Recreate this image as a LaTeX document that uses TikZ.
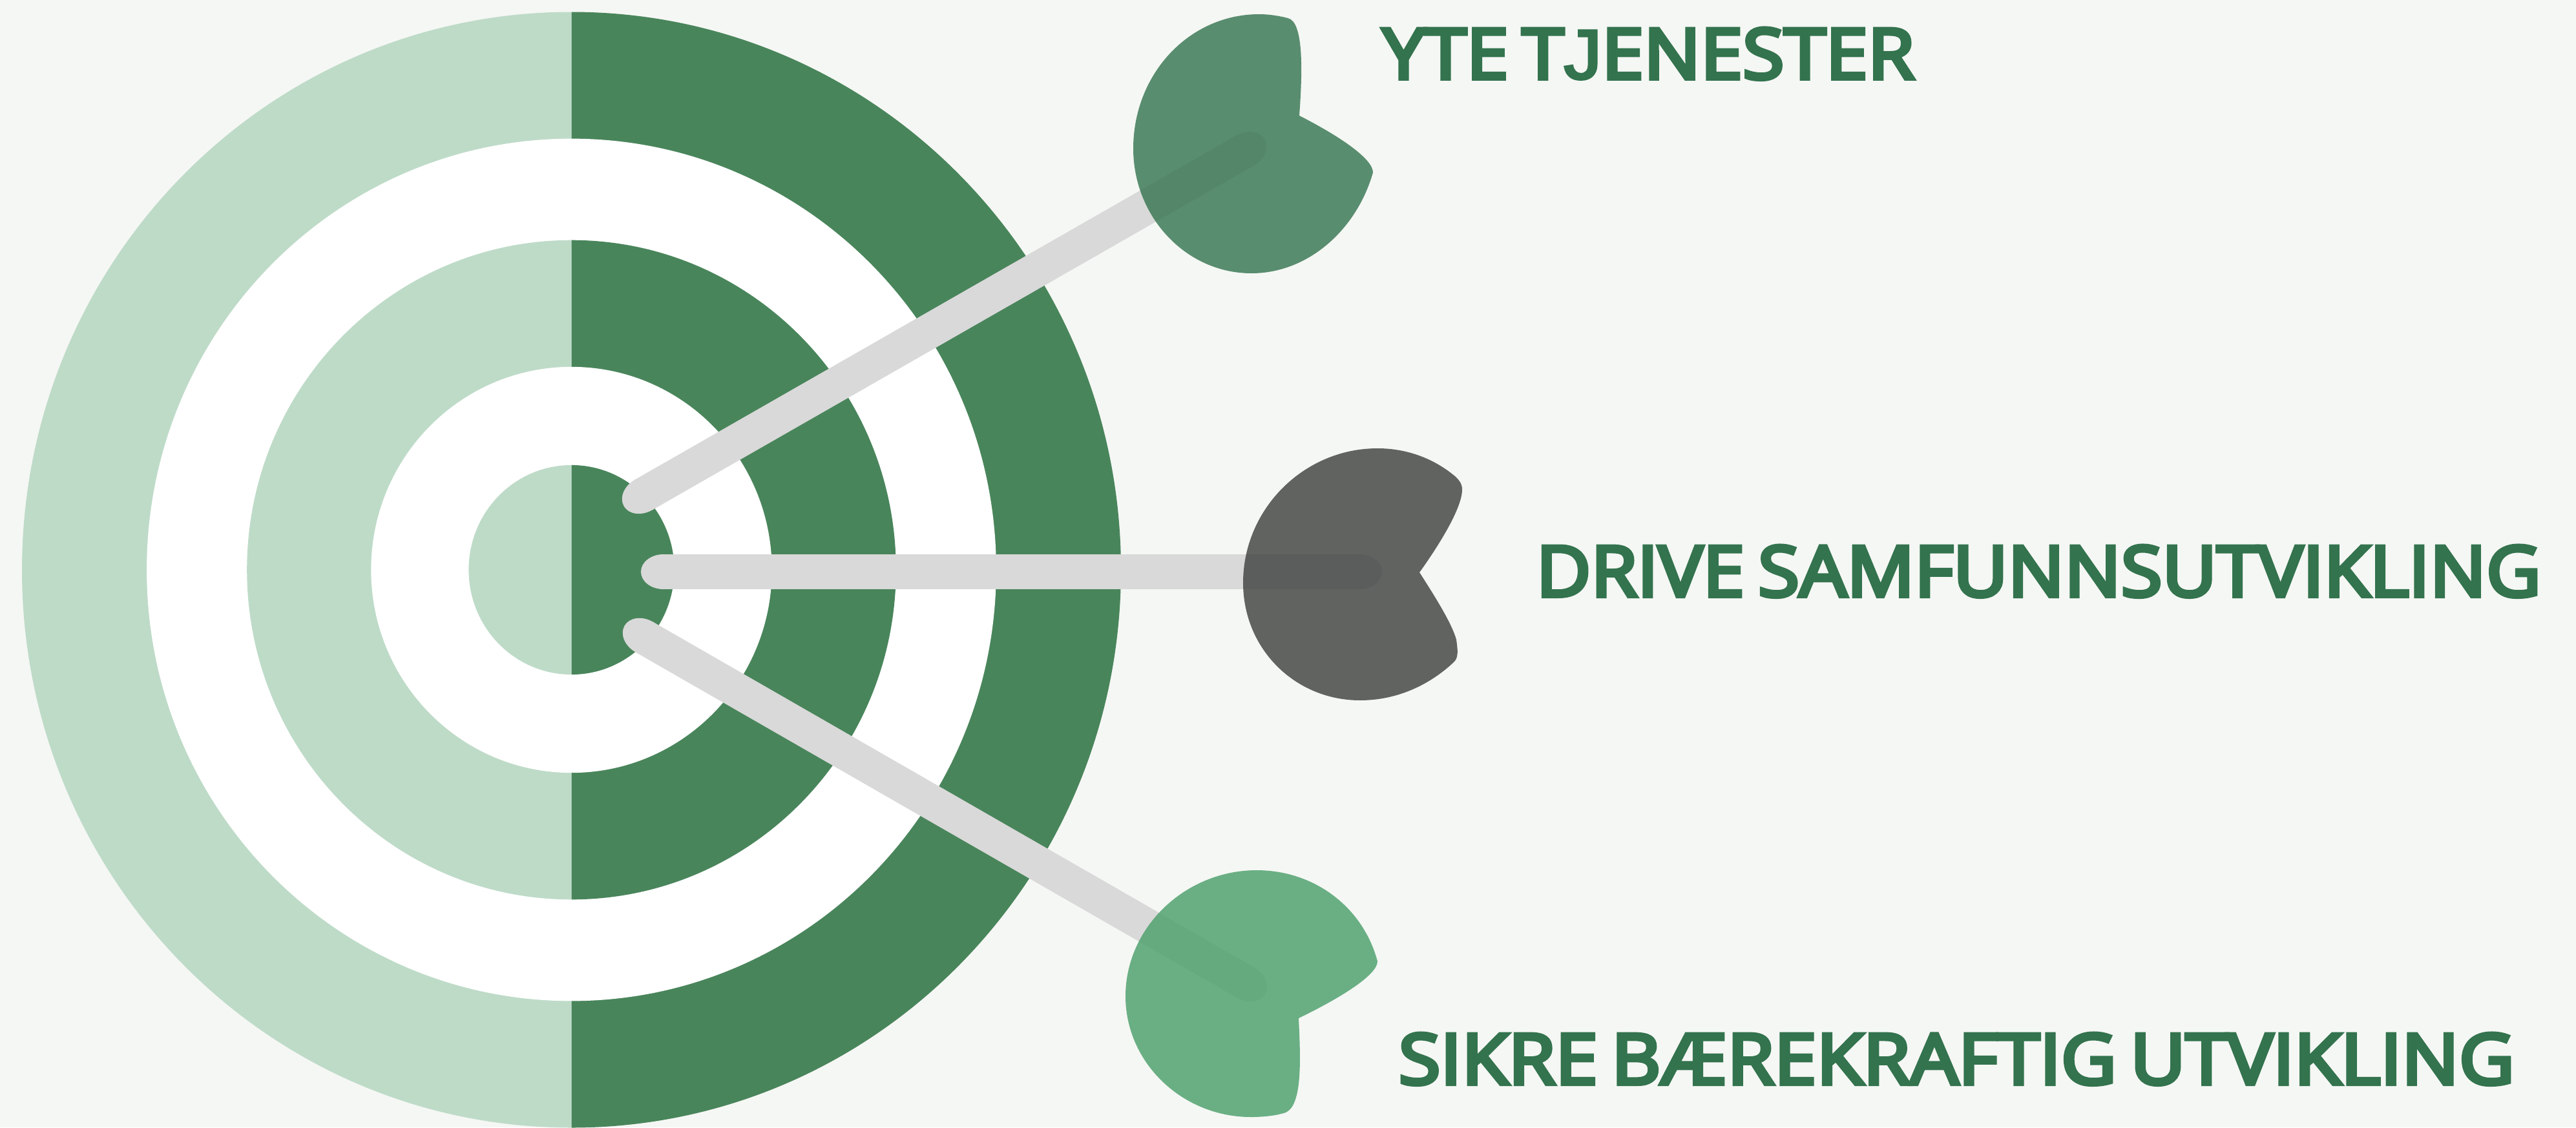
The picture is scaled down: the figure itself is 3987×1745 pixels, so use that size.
\documentclass[tikz,border=0pt]{standalone}
\usepackage{fontspec}
\setmainfont[FakeBold=5.5,WordSpace=0.7]{Open Sans}
\newfontfamily\jfont[FakeBold=3.5]{Liberation Sans}
\definecolor{bgc}{HTML}{F5F7F4}
\definecolor{ringlight}{HTML}{BEDBC8}
\definecolor{ringdark}{HTML}{49855B}
\definecolor{shaftc}{HTML}{D9D9D9}
\definecolor{txtc}{HTML}{33734E}
\definecolor{leafa}{HTML}{33734E}
\definecolor{leafb}{HTML}{3C3E3D}
\definecolor{leafc}{HTML}{489D68}
\tikzset{
  shaft/.style={line width=0.54cm,draw=shaftc},
  shafttip/.style={fill=shaftc},
  leaf/.style={opacity=0.8},
  lbl/.style={inner sep=0,anchor=base west,text=txtc,font=\fontsize{32}{32}\selectfont}
}
\newcommand{\ringpair}[4]{%
  \begin{scope}\clip (0,0) rectangle (884.5,1745);\fill[#3] (884.5,882) ellipse [x radius=#1cm,y radius=#2cm];\end{scope}
  \begin{scope}\clip (884.5,0) rectangle (3987,1745);\fill[#4] (884.5,882) ellipse [x radius=#1cm,y radius=#2cm];\end{scope}}
\newcommand{\ringwhite}[2]{\fill[white] (884.5,882) ellipse [x radius=#1cm,y radius=#2cm];}
\newcommand{\dartshaft}[3]{%
  \draw[shaft] (#1) -- (#2);
  \fill[shafttip,rotate around={#3:(#1)}] (#1) ellipse [x radius=0.35cm,y radius=0.27cm];
  \fill[shafttip,rotate around={#3:(#2)}] (#2) ellipse [x radius=0.35cm,y radius=0.27cm];}
\begin{document}
\begin{tikzpicture}[x=0.01cm,y=-0.01cm]
\useasboundingbox (0,0) rectangle (3987,1745);
\fill[bgc] (0,0) rectangle (3987,1745);
\ringpair{8.50}{8.63}{ringlight}{ringdark}
\ringwhite{6.57}{6.67}
\ringpair{5.02}{5.10}{ringlight}{ringdark}
\ringwhite{3.10}{3.14}
\ringpair{1.59}{1.62}{ringlight}{ringdark}
\coordinate (s1a) at (996,766); \coordinate (s1b) at (1927,233);
\coordinate (s2a) at (1027,885); \coordinate (s2b) at (2104,885);
\coordinate (s3a) at (997,986); \coordinate (s3b) at (1928,1521);
\dartshaft{s1a}{s1b}{29.8}
\dartshaft{s2a}{s2b}{0}
\dartshaft{s3a}{s3b}{-29.9}
\fill[leaf,leafa] (2011,179) .. controls (2070,209) and (2125,245) .. (2125,267)
  .. controls (2100,355) and (2025,423) .. (1937,423)
  .. controls (1835,423) and (1754,335) .. (1754,230)
  .. controls (1754,115) and (1840,22) .. (1949,22)
  .. controls (1965,22) and (1982,25) .. (1993,28)
  .. controls (2018,33) and (2016,110) .. (2011,179) -- cycle;
\fill[leaf,leafb] (2197,886) .. controls (2230,840) and (2263,785) .. (2263,758)
  .. controls (2263,748) and (2258,743) .. (2253,738)
  .. controls (2220,710) and (2178,694) .. (2132,694)
  .. controls (2018,694) and (1924,788) .. (1924,902)
  .. controls (1924,1005) and (2005,1084) .. (2105,1084)
  .. controls (2165,1084) and (2215,1058) .. (2250,1025)
  .. controls (2258,1018) and (2256,1005) .. (2254,990)
  .. controls (2247,965) and (2222,925) .. (2197,886) -- cycle;
\fill[leaf,leafc] (2010,1576) .. controls (2070,1547) and (2132,1510) .. (2132,1488)
  .. controls (2110,1405) and (2035,1347) .. (1945,1347)
  .. controls (1835,1347) and (1742,1435) .. (1742,1542)
  .. controls (1742,1645) and (1830,1729) .. (1936,1729)
  .. controls (1955,1729) and (1975,1727) .. (1990,1722)
  .. controls (2016,1710) and (2013,1640) .. (2010,1576) -- cycle;
\node[lbl] (t1) at (2139,122) {\resizebox{8.23cm}{0.785cm}{YTE T{\jfont J}ENESTER}};
\node[lbl] (t2) at (2377,923) {\resizebox{15.54cm}{0.785cm}{DRIVE SAMFUNNSUTVIKLING}};
\node[lbl] (t3) at (2164,1678) {\resizebox{17.26cm}{0.785cm}{SIKRE BÆREKRAFTIG UTVIKLING}};
\end{tikzpicture}
\end{document}
